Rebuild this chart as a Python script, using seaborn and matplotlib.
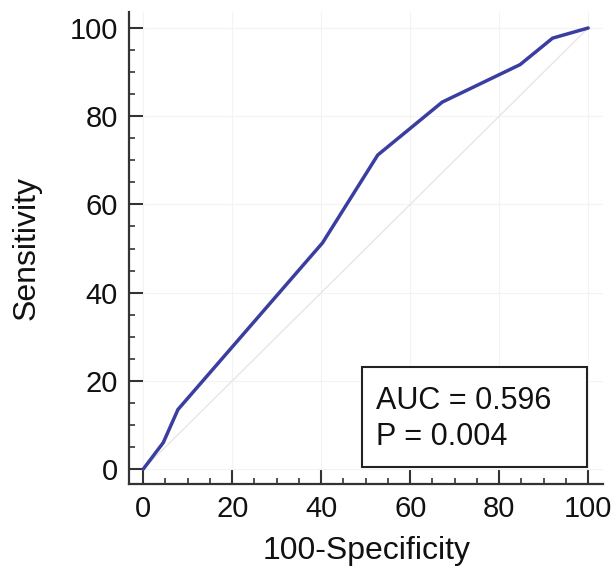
import matplotlib

matplotlib.use("Agg")
import matplotlib.pyplot as plt
import numpy as np
import pandas as pd
import seaborn as sns
from matplotlib.patches import Rectangle
from matplotlib.ticker import MultipleLocator

# ROC curve
fpr = [0, 4.5, 7.8, 40.3, 52.7, 67.2, 84.7, 92.0, 100]
tpr = [0, 6.0, 13.5, 51.3, 71.2, 83.2, 91.7, 97.7, 100]
diag = [0, 100]
auc_text = "AUC = 0.596"
p_text = "P = 0.004"
x_label = "100-Specificity"
y_label = "Sensitivity"


def main() -> None:
    sns.set_style("ticks")
    plt.rcParams["font.family"] = ["Liberation Sans", "DejaVu Sans"]
    plt.rcParams["text.color"] = "#111111"
    plt.rcParams["axes.labelcolor"] = "#111111"
    plt.rcParams["xtick.labelcolor"] = "#111111"
    plt.rcParams["ytick.labelcolor"] = "#111111"

    roc = pd.DataFrame({"fpr": fpr, "tpr": tpr})

    fig = plt.figure(figsize=(6.16, 5.77), dpi=100)
    ax = fig.add_axes([0.2094, 0.161, 0.770, 0.818])

    ax.grid(True, which="major", color="#f3f3f3", linewidth=0.8)
    ax.plot(diag, diag, color="#ece4e4", linewidth=1.0, zorder=1)
    sns.lineplot(data=roc, x="fpr", y="tpr", color="#3a3ea0", linewidth=2.5,
                 sort=False, ax=ax, zorder=3)

    ax.set_xlim(-3.2, 103.4)
    ax.set_ylim(-3.4, 103.6)
    ax.xaxis.set_major_locator(MultipleLocator(20))
    ax.yaxis.set_major_locator(MultipleLocator(20))
    ax.xaxis.set_minor_locator(MultipleLocator(5))
    ax.yaxis.set_minor_locator(MultipleLocator(5))
    ax.tick_params(which="major", direction="in", length=10, width=1.5,
                   color="#333333", labelsize=21, pad=8)
    ax.tick_params(which="minor", direction="in", length=4.5, width=1.2,
                   color="#333333")
    for side in ("top", "right"):
        ax.spines[side].set_visible(False)
    for side in ("left", "bottom"):
        ax.spines[side].set_linewidth(1.6)
        ax.spines[side].set_color("#333333")

    ax.set_xlabel(x_label, fontsize=23, labelpad=9)
    ax.set_ylabel(y_label, fontsize=23, labelpad=20)

    # stats box, lower right
    ax.add_patch(Rectangle((49.2, 0.45), 50.6, 22.6, facecolor="white",
                           edgecolor="#222222", linewidth=1.5, zorder=4))
    ax.text(52.4, 15.4, auc_text, fontsize=22, va="center", ha="left", zorder=5)
    ax.text(52.4, 7.2, p_text, fontsize=22, va="center", ha="left", zorder=5)

    fig.savefig("out.png", dpi=100)
    plt.close(fig)


if __name__ == "__main__":
    main()
